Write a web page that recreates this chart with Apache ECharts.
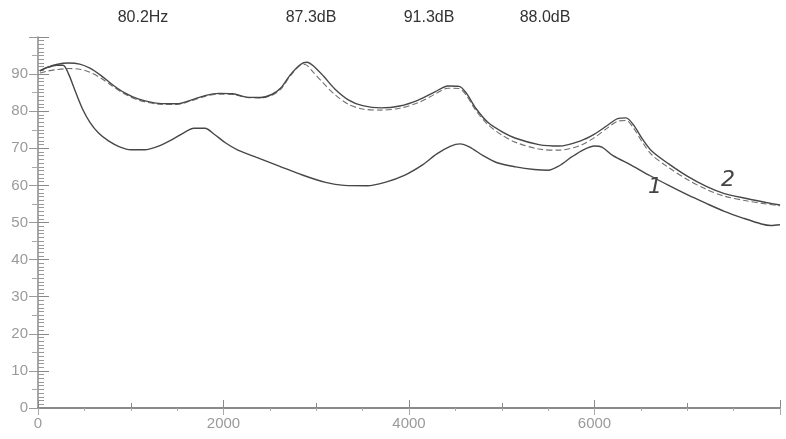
<!DOCTYPE html>
<html>
<head>
<meta charset="utf-8">
<script src="https://cdn.jsdelivr.net/npm/echarts@6/dist/echarts.min.js"></script>
<style>
html,body{margin:0;padding:0;background:#fff;}
#chart{width:786px;height:439px;}
</style>
</head>
<body>
<div id="chart"></div>
<script>
// Readouts shown above the plot
var readouts = ['80.2Hz', '87.3dB', '91.3dB', '88.0dB'];
// Tick labels
var xTickLabels = ['0', '2000', '4000', '6000'];
var yTickLabels = ['0', '10', '20', '30', '40', '50', '60', '70', '80', '90'];

// Curve 2 (upper solid)
var curve2F  = [20, 100, 200, 330, 450, 560, 680, 800, 930, 1080, 1300, 1500, 1650, 1800, 1950, 2100, 2250, 2400, 2520, 2620, 2720, 2830, 2900, 2970, 3080, 3200, 3350, 3500, 3700, 3900, 4100, 4280, 4420, 4540, 4620, 4720, 4850, 5000, 5150, 5400, 5620, 5850, 6000, 6130, 6250, 6340, 6420, 6520, 6620, 6800, 7000, 7200, 7400, 7650, 7850, 8000];
var curve2Db = [90.9, 91.8, 92.6, 93.0, 92.7, 91.6, 89.6, 87.2, 85.0, 83.3, 82.1, 82.0, 83.0, 84.2, 84.8, 84.7, 83.8, 83.7, 84.5, 86.3, 89.8, 92.6, 93.2, 92.2, 89.4, 86.0, 83.0, 81.5, 80.9, 81.4, 83.0, 85.2, 86.8, 86.7, 84.8, 80.8, 77.0, 74.5, 72.7, 71.0, 70.6, 72.0, 73.8, 76.0, 78.0, 78.2, 76.3, 72.4, 69.2, 65.8, 62.5, 59.8, 57.8, 56.4, 55.4, 54.7];

// Curve 2 dashed companion
var dashedF  = [20, 100, 200, 330, 450, 560, 680, 800, 930, 1080, 1300, 1500, 1650, 1800, 1950, 2100, 2250, 2400, 2520, 2620, 2720, 2820, 2880, 2950, 3060, 3200, 3350, 3500, 3700, 3900, 4100, 4280, 4420, 4540, 4620, 4720, 4850, 5000, 5150, 5400, 5620, 5850, 6000, 6130, 6250, 6340, 6420, 6520, 6620, 6800, 7000, 7200, 7400, 7650, 7850, 8000];
var dashedDb = [90.3, 90.8, 91.2, 91.5, 91.3, 90.5, 88.9, 86.8, 84.7, 83.0, 81.9, 81.8, 82.8, 84.0, 84.6, 84.5, 83.7, 83.6, 84.3, 86.0, 89.5, 92.2, 92.6, 91.0, 88.0, 84.5, 81.8, 80.6, 80.3, 80.8, 82.3, 84.6, 86.2, 86.1, 84.2, 80.2, 76.4, 73.6, 71.6, 69.8, 69.5, 70.8, 72.9, 75.3, 77.3, 77.5, 75.5, 71.5, 68.2, 64.8, 61.6, 59.0, 57.1, 55.8, 55.0, 54.5];

// Curve 1 (lower solid)
var curve1F  = [20, 100, 200, 270, 330, 400, 480, 560, 650, 760, 880, 1000, 1150, 1300, 1450, 1580, 1680, 1800, 1900, 2020, 2150, 2350, 2600, 2850, 3100, 3300, 3550, 3750, 3950, 4150, 4300, 4450, 4550, 4650, 4800, 4950, 5150, 5350, 5500, 5620, 5750, 5880, 6000, 6080, 6200, 6400, 6600, 6800, 7000, 7200, 7400, 7600, 7800, 7900, 8000];
var curve1Db = [90.9, 91.8, 92.4, 92.4, 90.0, 85.5, 80.6, 77.0, 74.2, 72.0, 70.4, 69.6, 69.6, 70.6, 72.4, 74.3, 75.4, 75.4, 73.8, 71.5, 69.6, 67.6, 65.2, 62.8, 60.8, 60.0, 59.9, 60.9, 62.7, 65.6, 68.5, 70.6, 71.2, 70.4, 68.0, 66.1, 65.0, 64.3, 64.1, 65.3, 67.6, 69.6, 70.6, 70.3, 68.0, 65.4, 62.6, 60.0, 57.5, 55.2, 53.0, 51.2, 49.6, 49.2, 49.4];

function pairs(f, d) { return f.map(function (v, i) { return [v, d[i]]; }); }

var chart = echarts.init(document.getElementById('chart'), null, {renderer: 'canvas'});
var lineCol = '#474747';
var axisCol = '#8a8a8a';
var labelStyle = {color: '#9a9a9a', fontSize: 15, fontFamily: 'Liberation Sans, Arial, sans-serif'};
var readFont = '16px Liberation Sans, Arial, sans-serif';

chart.setOption({
  animation: false,
  backgroundColor: '#ffffff',
  grid: {left: 38, right: 6, top: 37, bottom: 31, containLabel: false},
  xAxis: [{
    type: 'value', min: 0, max: 8000, interval: 2000, position: 'bottom',
    axisLine: {show: true, lineStyle: {color: '#777', width: 2}},
    axisTick: {show: true, inside: true, length: 8, lineStyle: {color: axisCol}},
    minorTick: {show: true, splitNumber: 2, length: 5, lineStyle: {color: axisCol}},
    splitLine: {show: false},
    axisLabel: Object.assign({margin: 8, showMaxLabel: false,
      formatter: function (v) { var i = v / 2000; return xTickLabels[i] !== undefined ? xTickLabels[i] : ''; }}, labelStyle)
  }, {
    type: 'value', min: 0, max: 8000, interval: 2000, position: 'top',
    axisLine: {show: true, lineStyle: {color: axisCol, width: 2}},
    axisTick: {show: true, inside: true, length: 7, lineStyle: {color: '#aaa'}},
    minorTick: {show: true, splitNumber: 4, length: 3, lineStyle: {color: '#aaa'}},
    splitLine: {show: false},
    axisLabel: {show: false}
  }],
  yAxis: [{
    type: 'value', min: 0, max: 100, interval: 10, position: 'left',
    axisLine: {show: true, lineStyle: {color: axisCol, width: 1.5}},
    axisTick: {show: true, inside: true, length: 11, lineStyle: {color: '#888'}},
    minorTick: {show: true, splitNumber: 10, length: 6, lineStyle: {color: '#999'}},
    splitLine: {show: false},
    axisLabel: Object.assign({margin: 10, showMaxLabel: false,
      formatter: function (v) { var i = v / 10; return yTickLabels[i] !== undefined ? yTickLabels[i] : ''; }}, labelStyle)
  }, {
    type: 'value', min: 0, max: 100, interval: 10, position: 'right',
    axisLine: {show: false},
    axisTick: {show: true, inside: true, length: 9, lineStyle: {color: '#999'}},
    minorTick: {show: true, splitNumber: 2, length: 6, lineStyle: {color: '#aaa'}},
    splitLine: {show: false},
    axisLabel: {show: false}
  }],
  series: [{
    type: 'line', name: '2', xAxisIndex: 0, yAxisIndex: 0,
    data: pairs(curve2F, curve2Db), smooth: 0.3, showSymbol: false,
    lineStyle: {color: lineCol, width: 1.4}, z: 3
  }, {
    type: 'line', name: '2 dashed', xAxisIndex: 0, yAxisIndex: 0,
    data: pairs(dashedF, dashedDb), smooth: 0.3, showSymbol: false,
    lineStyle: {color: '#707070', width: 1.1, type: [6, 3]}, z: 2
  }, {
    type: 'line', name: '1', xAxisIndex: 0, yAxisIndex: 0,
    data: pairs(curve1F, curve1Db), smooth: 0.3, showSymbol: false,
    lineStyle: {color: lineCol, width: 1.4}, z: 3
  }],
  graphic: [
    {type: 'text', x: 143, y: 18, style: {text: readouts[0], fill: '#333', font: readFont, textAlign: 'center', textVerticalAlign: 'middle'}},
    {type: 'text', x: 311, y: 18, style: {text: readouts[1], fill: '#333', font: readFont, textAlign: 'center', textVerticalAlign: 'middle'}},
    {type: 'text', x: 429, y: 18, style: {text: readouts[2], fill: '#333', font: readFont, textAlign: 'center', textVerticalAlign: 'middle'}},
    {type: 'text', x: 545, y: 18, style: {text: readouts[3], fill: '#333', font: readFont, textAlign: 'center', textVerticalAlign: 'middle'}},
    {type: 'text', x: 655, y: 187, style: {text: '1', fill: '#444', font: 'italic 22px DejaVu Sans, sans-serif', textAlign: 'center', textVerticalAlign: 'middle'}},
    {type: 'text', x: 728, y: 180, style: {text: '2', fill: '#444', font: 'italic 22px DejaVu Sans, sans-serif', textAlign: 'center', textVerticalAlign: 'middle'}}
  ]
});
</script>
</body>
</html>
